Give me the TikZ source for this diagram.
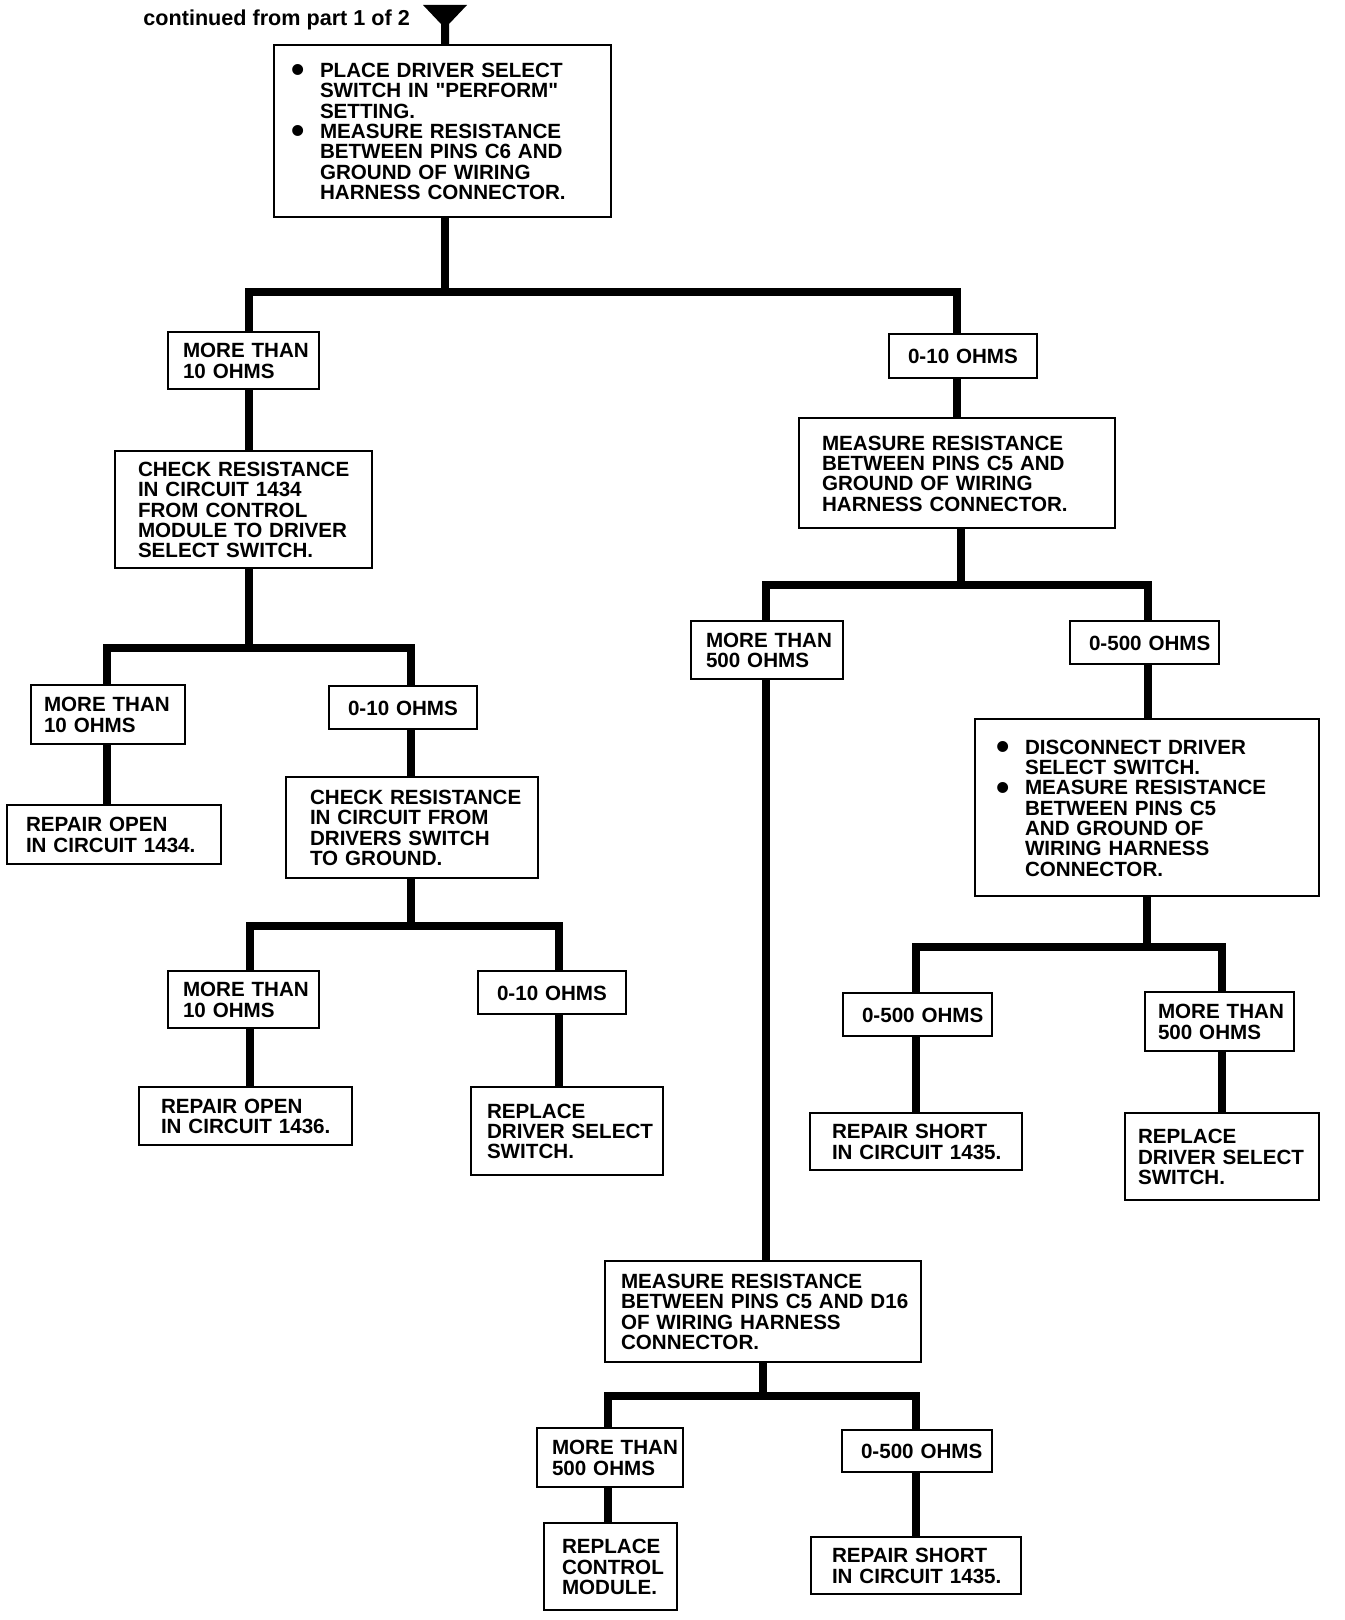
\documentclass[tikz,border=0pt]{standalone}
\usepackage{fontspec}
\setmainfont{Liberation Sans}
\newfontfamily\qf{Liberation Sans}
\newcommand\qt{{\qf\bfseries"}}
\newcommand\bul{\makebox[11.5pt][l]{\hspace*{-2.6pt}\raisebox{-2.6pt}{\fontsize{19}{10}\selectfont •}}}
\newcommand\ind{\hspace*{11.5pt}}
\newcommand\bx[7]{%
 \pgfmathsetlengthmacro\bxw{(#4-#2)*0.5pt}%
 \pgfmathsetlengthmacro\bxh{(#5-#3)*0.5pt}%
 \pgfmathsetlengthmacro\bxt{(#4-#2-2*#6)*0.5pt}%
 \pgfmathsetlengthmacro\bxp{#6*0.5pt}%
 \node[box, minimum width=\bxw, minimum height=\bxh, text width=\bxt, inner xsep=\bxp] (#1) at ({(#2+#4)/2},{(#3+#5)/2}) {\begin{tabular}{@{}l@{}}\rule{0pt}{10.6pt}#7\end{tabular}};}
\tikzset{
 box/.style={draw, line width=1.4pt, font=\bfseries\fontsize{10.3}{9.9}\selectfont, align=left, inner ysep=0pt, outer sep=0pt},
 conn/.style={line width=3.7pt, line join=miter, line cap=butt},
}
\begin{document}
\begin{tikzpicture}[x=0.5pt,y=-0.5pt]
\fill[white] (0,0) rectangle (1344,1620);
\useasboundingbox (0,0) rectangle (1344,1620);

\node[font=\bfseries\fontsize{10.8}{12}\selectfont, anchor=base west, inner sep=0pt] (cont) at (143,26) {continued from part 1 of 2};

\bx{A}{274}{45}{611}{217}{23}{\bul PLACE DRIVER SELECT\\\ind SWITCH IN \qt PERFORM\qt\\\ind SETTING.\\\bul MEASURE RESISTANCE\\\ind BETWEEN PINS C6 AND\\\ind GROUND OF WIRING\\\ind HARNESS CONNECTOR.}
\fill (423,5) -- (467,5) -- (449,24) -- (449,45) -- (441,45) -- (441,24) -- cycle;

\bx{B1}{168}{332}{319}{389}{15}{MORE THAN\\10 OHMS}
\bx{B2}{889}{334}{1037}{378}{19}{0-10 OHMS}
\bx{C1}{115}{451}{372}{568}{23}{CHECK RESISTANCE\\IN CIRCUIT 1434\\FROM CONTROL\\MODULE TO DRIVER\\SELECT SWITCH.}
\bx{C2}{799}{418}{1115}{528}{23}{MEASURE RESISTANCE\\BETWEEN PINS C5 AND\\GROUND OF WIRING\\HARNESS CONNECTOR.}
\bx{D1}{31}{685}{185}{744}{13}{MORE THAN\\10 OHMS}
\bx{D2}{329}{686}{477}{729}{19}{0-10 OHMS}
\bx{E1}{7}{805}{221}{864}{19}{REPAIR OPEN\\IN CIRCUIT 1434.}
\bx{E2}{286}{777}{538}{878}{24}{CHECK RESISTANCE\\IN CIRCUIT FROM\\DRIVERS SWITCH\\TO GROUND.}
\bx{F1}{168}{971}{319}{1028}{15}{MORE THAN\\10 OHMS}
\bx{F2}{478}{971}{626}{1014}{19}{0-10 OHMS}
\bx{G1}{139}{1087}{352}{1145}{22}{REPAIR OPEN\\IN CIRCUIT 1436.}
\bx{G2}{471}{1087}{663}{1175}{16}{REPLACE\\DRIVER SELECT\\SWITCH.}
\bx{H1}{691}{621}{843}{679}{15}{MORE THAN\\500 OHMS}
\bx{H2}{1070}{621}{1219}{664}{19}{0-500 OHMS}
\bx{I2}{975}{719}{1319}{896}{27}{\bul DISCONNECT DRIVER\\\ind SELECT SWITCH.\\\bul MEASURE RESISTANCE\\\ind BETWEEN PINS C5\\\ind AND GROUND OF\\\ind WIRING HARNESS\\\ind CONNECTOR.}
\bx{J1}{843}{993}{992}{1036}{19}{0-500 OHMS}
\bx{J2}{1145}{992}{1294}{1051}{13}{MORE THAN\\500 OHMS}
\bx{K1}{810}{1113}{1022}{1170}{22}{REPAIR SHORT\\IN CIRCUIT 1435.}
\bx{K2}{1125}{1113}{1319}{1200}{13}{REPLACE\\DRIVER SELECT\\SWITCH.}
\bx{L}{605}{1261}{921}{1362}{16}{MEASURE RESISTANCE\\BETWEEN PINS C5 AND D16\\OF WIRING HARNESS\\CONNECTOR.}
\bx{M1}{537}{1428}{683}{1487}{15}{MORE THAN\\500 OHMS}
\bx{M2}{842}{1430}{992}{1472}{19}{0-500 OHMS}
\bx{N1}{544}{1523}{677}{1610}{18}{REPLACE\\CONTROL\\MODULE.}
\bx{N2}{811}{1537}{1021}{1594}{21}{REPAIR SHORT\\IN CIRCUIT 1435.}

% junction coordinates
\coordinate (jA) at (445,292); \coordinate (bB1) at (249,292); \coordinate (bB2) at (957,292);
\coordinate (jC1) at (249,648); \coordinate (bD1) at (107,648); \coordinate (bD2) at (411,648);
\coordinate (jE2) at (411,926); \coordinate (bF1) at (250,926); \coordinate (bF2) at (559,926);
\coordinate (jC2) at (961,585); \coordinate (bH1) at (766,585); \coordinate (bH2) at (1148,585);
\coordinate (jI2) at (1147,947); \coordinate (bJ1) at (916,947); \coordinate (bJ2) at (1222,947);
\coordinate (jL) at (763,1396); \coordinate (bM1) at (608,1396); \coordinate (bM2) at (916,1396);

\draw[conn] (jA |- A.south) -- (jA);
\draw[conn] (bB1 |- B1.north) -- (bB1) -- (bB2) -- (bB2 |- B2.north);
\draw[conn] (bB1 |- B1.south) -- (bB1 |- C1.north);
\draw[conn] (bB2 |- B2.south) -- (bB2 |- C2.north);

\draw[conn] (jC1 |- C1.south) -- (jC1);
\draw[conn] (bD1 |- D1.north) -- (bD1) -- (bD2) -- (bD2 |- D2.north);
\draw[conn] (bD1 |- D1.south) -- (bD1 |- E1.north);
\draw[conn] (bD2 |- D2.south) -- (bD2 |- E2.north);

\draw[conn] (jE2 |- E2.south) -- (jE2);
\draw[conn] (bF1 |- F1.north) -- (bF1) -- (bF2) -- (bF2 |- F2.north);
\draw[conn] (bF1 |- F1.south) -- (bF1 |- G1.north);
\draw[conn] (bF2 |- F2.south) -- (bF2 |- G2.north);

\draw[conn] (jC2 |- C2.south) -- (jC2);
\draw[conn] (bH1 |- H1.north) -- (bH1) -- (bH2) -- (bH2 |- H2.north);
\draw[conn] (bH1 |- H1.south) -- (bH1 |- L.north);
\draw[conn] (bH2 |- H2.south) -- (bH2 |- I2.north);

\draw[conn] (jI2 |- I2.south) -- (jI2);
\draw[conn] (bJ1 |- J1.north) -- (bJ1) -- (bJ2) -- (bJ2 |- J2.north);
\draw[conn] (bJ1 |- J1.south) -- (bJ1 |- K1.north);
\draw[conn] (bJ2 |- J2.south) -- (bJ2 |- K2.north);

\draw[conn] (jL |- L.south) -- (jL);
\draw[conn] (bM1 |- M1.north) -- (bM1) -- (bM2) -- (bM2 |- M2.north);
\draw[conn] (bM1 |- M1.south) -- (bM1 |- N1.north);
\draw[conn] (bM2 |- M2.south) -- (bM2 |- N2.north);
\end{tikzpicture}
\end{document}
